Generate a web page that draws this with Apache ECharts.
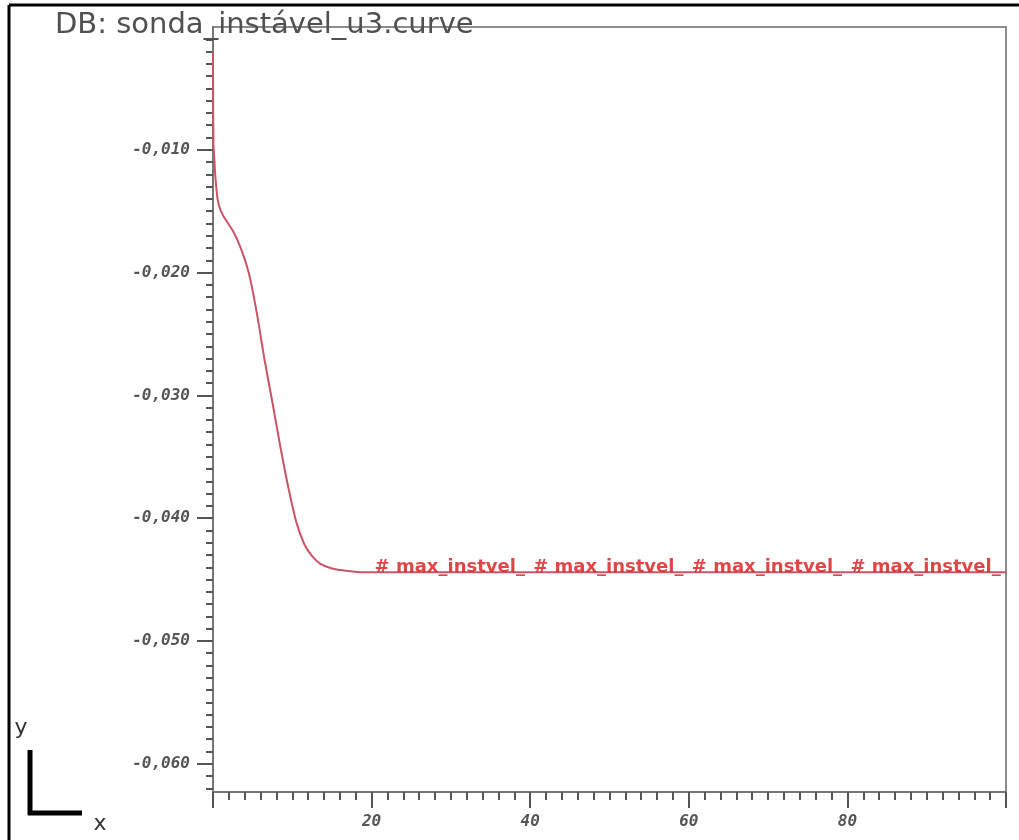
<!DOCTYPE html>
<html>
<head>
<meta charset="utf-8">
<script src="https://cdn.jsdelivr.net/npm/echarts@6/dist/echarts.min.js"></script>
<style>
  html, body { margin: 0; padding: 0; background: #ffffff; }
  #chart { width: 1019px; height: 840px; }
</style>
</head>
<body>
<div id="chart"></div>
<script>
// Probe signal u3 (instantaneous velocity) versus time
const curveX = [0, 0.05, 0.15, 0.3, 0.6, 1.0, 1.5, 2.5, 3.5, 4.5, 5.5, 6.5, 7.5, 8.5, 9.5,
                10.5, 11.5, 12.5, 13.5, 15, 17, 19, 20, 30, 40, 50, 60, 70, 80, 90, 100];
const curveY = [-0.0020, -0.0095, -0.0105, -0.0122, -0.0141, -0.0150, -0.0156, -0.0166, -0.0180,
                -0.0200, -0.0232, -0.0271, -0.0306, -0.0342, -0.0375, -0.0403, -0.0421, -0.0431,
                -0.0437, -0.0441, -0.0443, -0.0444, -0.0444, -0.0444, -0.0444, -0.0444, -0.0444,
                -0.0444, -0.0444, -0.0444, -0.0444];

// Curve annotations along the plateau
const noteX = [20, 40, 60, 80];
const noteY = [-0.0444, -0.0444, -0.0444, -0.0444];
const noteText = '# max_instvel_';

// Axis ticks
const yMajorTicks = [-0.01, -0.02, -0.03, -0.04, -0.05, -0.06];
const xTickLabels = [20, 40, 60, 80];

const yMinorTicks = [];
for (let k = 1; k <= 62; k++) {
  if (k % 10 !== 0) yMinorTicks.push(-k / 1000);
}

const yMin = -0.0623, yMax = 0;
const tickFont = { fontFamily: 'DejaVu Sans Mono', fontWeight: 'bold', fontStyle: 'italic', fontSize: 16, color: '#555' };

const chart = echarts.init(document.getElementById('chart'), null, { renderer: 'canvas' });

chart.setOption({
  backgroundColor: '#ffffff',
  animation: false,
  grid: {
    left: 213, top: 27, right: 13, bottom: 48,
    show: true, borderColor: '#8c8c8c', borderWidth: 2, backgroundColor: '#ffffff'
  },
  xAxis: {
    type: 'value', min: 0, max: 100, interval: 20,
    axisLine: { show: true, onZero: false, lineStyle: { color: '#777', width: 2 } },
    axisTick: { show: true, length: 16, lineStyle: { color: '#555', width: 2 } },
    minorTick: { show: true, splitNumber: 10, length: 8, lineStyle: { color: '#555', width: 2 } },
    splitLine: { show: false },
    axisLabel: Object.assign({
      margin: 22,
      formatter: v => (xTickLabels.indexOf(v) >= 0 ? String(v) : '')
    }, tickFont)
  },
  yAxis: [{
    type: 'value', min: yMin, max: yMax, position: 'left',
    axisLine: { show: true, onZero: false, lineStyle: { color: '#777', width: 2 } },
    axisTick: { show: true, length: 16, customValues: yMajorTicks, lineStyle: { color: '#555', width: 2 } },
    splitLine: { show: false },
    axisLabel: Object.assign({
      margin: 23,
      customValues: yMajorTicks,
      formatter: v => v.toFixed(3).replace('.', ',')
    }, tickFont)
  }, {
    type: 'value', min: yMin, max: yMax, position: 'left', offset: 0,
    axisLine: { show: false },
    axisTick: { show: true, length: 7, customValues: yMinorTicks, lineStyle: { color: '#555', width: 2 } },
    axisLabel: { show: false },
    splitLine: { show: false }
  }],
  series: [{
    type: 'line',
    name: 'u3',
    data: curveX.map((x, i) => [x, curveY[i]]),
    showSymbol: false,
    smooth: 0.25,
    lineStyle: { color: '#cc5468', width: 2 },
    z: 2
  }, {
    type: 'scatter',
    data: noteX.map((x, i) => [x, noteY[i]]),
    symbolSize: 0,
    label: {
      show: true,
      position: 'right',
      distance: 3,
      offset: [0, -5],
      formatter: noteText,
      fontFamily: 'DejaVu Sans',
      fontWeight: 'bold',
      fontSize: 18,
      color: '#d81818'
    },
    z: 3
  }],
  graphic: [
    // outer frame
    { type: 'line', shape: { x1: 9, y1: 5, x2: 9, y2: 840 }, style: { stroke: '#000', lineWidth: 3 } },
    { type: 'line', shape: { x1: 9, y1: 5, x2: 1019, y2: 5 }, style: { stroke: '#000', lineWidth: 3 } },
    // database title
    { type: 'text', z: 10, style: { x: 55, y: 25, text: 'DB: sonda_instável_u3.curve',
        font: '29px "DejaVu Sans"', fill: '#505050', textAlign: 'left', textVerticalAlign: 'middle' } },
    // axis triad
    { type: 'line', shape: { x1: 30, y1: 750, x2: 30, y2: 815 }, style: { stroke: '#000', lineWidth: 5 } },
    { type: 'line', shape: { x1: 28, y1: 813, x2: 82, y2: 813 }, style: { stroke: '#000', lineWidth: 5 } },
    { type: 'text', style: { x: 21, y: 728, text: 'y', font: '22px "DejaVu Sans"', fill: '#333',
        textAlign: 'center', textVerticalAlign: 'middle' } },
    { type: 'text', style: { x: 100, y: 824, text: 'x', font: '22px "DejaVu Sans"', fill: '#333',
        textAlign: 'center', textVerticalAlign: 'middle' } }
  ]
});
</script>
</body>
</html>
